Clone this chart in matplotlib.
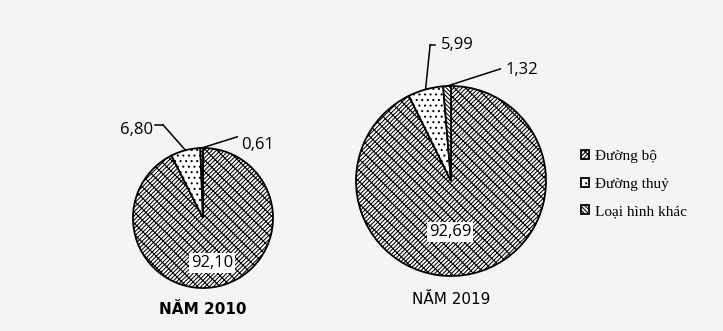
import numpy as np
import matplotlib.pyplot as plt

plt.rcParams['hatch.linewidth'] = 0.75

# Co cau van tai (%): Duong bo, Duong thuy, Loai hinh khac
categories = ["Đường bộ", "Đường thuỷ", "Loại hình khác"]
values_2010 = [92.10, 6.80, 0.61]
values_2019 = [92.69, 5.99, 1.32]
labels_2010 = ["92,10", "6,80", "0,61"]
labels_2019 = ["92,69", "5,99", "1,32"]
titles = ["NĂM 2010", "NĂM 2019"]

hatches = ['/' * 8 + '\\' * 3, '.' * 3, '\\' * 8]

W, H = 723, 331
fig = plt.figure(figsize=(W / 100, H / 100), dpi=100, facecolor='#f4f4f2')
ax = fig.add_axes([0, 0, 1, 1])
ax.set_facecolor('#f4f4f2')


def draw_pie(vals, labs, center, radius, text_offsets, title, title_y, bold):
    wedges, _ = ax.pie(vals, center=center, radius=radius, startangle=90,
                       counterclock=False, colors=['white'] * 3,
                       wedgeprops=dict(edgecolor='black', linewidth=1.3),
                       frame=True)
    for w, h in zip(wedges, hatches):
        w.set_hatch(h)
    cx, cy = center
    fr = np.array(vals) / np.sum(vals)
    ends = 90 - 360 * np.cumsum(fr)
    starts = np.concatenate([[90], ends[:-1]])
    mids = (starts + ends) / 2
    # big slice label inside with white box
    dx, dy = text_offsets[0]
    ax.text(cx + dx * radius, cy + dy * radius, labs[0], ha='center', va='center',
            fontsize=12, family='Open Sans',
            bbox=dict(facecolor='white', edgecolor='none', pad=1.5))
    # small slices with leader lines
    for i in (1, 2):
        a = np.deg2rad(mids[i])
        px, py = cx + radius * np.cos(a), cy + radius * np.sin(a)
        (kx, ky), (tx, ty), ha = text_offsets[i]
        ax.plot([px, cx + kx * radius], [py, cy + ky * radius], color='black', lw=1.1)
        ax.text(cx + tx * radius, cy + ty * radius, labs[i], ha=ha, va='center',
                fontsize=12, family='Open Sans')
    ax.text(cx, title_y, title, ha='center', va='center', fontsize=11,
            family='DejaVu Sans', fontweight='bold' if bold else 'normal')
    return wedges


draw_pie(values_2010, labels_2010, (203, 113), 70,
         [(0.13, -0.64),
          ((-0.57, 1.33), (-0.95, 1.26), 'center'),
          ((0.49, 1.16), (0.55, 1.04), 'left')],
         titles[0], 21, True)
wedges = draw_pie(values_2019, labels_2019, (451, 150), 95,
                  [(-0.01, -0.54),
                   ((-0.22, 1.43), (0.07, 1.43), 'center'),
                   ((0.52, 1.18), (0.57, 1.17), 'left')],
                  titles[1], 31, False)

# small horizontal tick on the 5,99 leader
ax.plot([451 - 0.22 * 95, 451 - 0.17 * 95], [150 + 1.43 * 95] * 2, color='black', lw=1.1)
# short horizontal start on the 6,80 leader
ax.plot([203 - 0.57 * 70, 203 - 0.69 * 70], [113 + 1.33 * 70] * 2, color='black', lw=1.1)

leg = ax.legend(wedges, categories, loc='upper left', bbox_to_anchor=(0.795, 0.565),
                frameon=False, prop=dict(family='Liberation Serif', size=11),
                handlelength=0.55, handleheight=0.55, handletextpad=0.35,
                labelspacing=0.95, borderaxespad=0)

ax.set_xlim(0, W)
ax.set_ylim(0, H)
ax.set_aspect('equal')
ax.axis('off')

fig.savefig('out.png', dpi=100, facecolor=fig.get_facecolor())
